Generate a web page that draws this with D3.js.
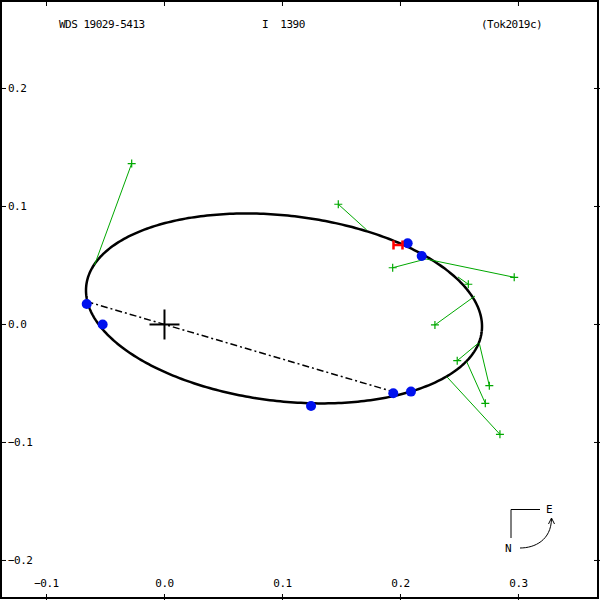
<!DOCTYPE html>
<html><head><meta charset="utf-8">
<script src="https://cdn.jsdelivr.net/npm/d3@7"></script>
<style>body{margin:0;background:#fff}svg{display:block}text{font-family:"DejaVu Sans Mono",monospace;font-size:11px;letter-spacing:-0.5px;fill:#000;white-space:pre}</style>
</head><body><svg id="c" width="600" height="600"></svg>
<script>
// title texts
const titleTexts = [{t:"WDS 19029-5413", x:59}, {t:"I  1390", x:262}, {t:"(Tok2019c)", x:481}];
// tick values
const xTicks = [-0.1, 0.0, 0.1, 0.2, 0.3];
const yTicks = [0.2, 0.1, 0.0, -0.1, -0.2];
// orbit ellipse parameters (data units): centre, semi-axes, rotation (deg)
const orbitCenter = [0.1013, 0.0136];
const orbitAxes = [0.1687, 0.0786];
const orbitAngle = -6.645;
// line of nodes endpoints
const nodeLine = [[-0.0661, 0.0195], [0.1936, -0.0569]];
// speckle measures (blue)
const speckleX = [-0.0659, -0.0524, 0.1242, 0.1939, 0.2089, 0.2061, 0.2180];
const speckleY = [0.0174, 0.0000, -0.0691, -0.0583, -0.0569, 0.0688, 0.0581];
// Hipparcos point
const hipX = [0.1979], hipY = [0.0674];
// visual measures (green) and predicted positions
const visX  = [-0.0278, 0.1473, 0.1934, 0.2964, 0.2575, 0.2292, 0.2481, 0.2753, 0.2719, 0.2843];
const visY  = [0.1364, 0.1019, 0.0481, 0.0400, 0.0341, -0.0004, -0.0307, -0.0519, -0.0668, -0.0931];
const predX = [-0.0593, 0.1714, 0.2216, 0.2216, 0.2487, 0.2631, 0.2659, 0.2668, 0.2561, 0.2392];
const predY = [0.0504, 0.0801, 0.0555, 0.0555, 0.0403, 0.0241, -0.0159, -0.0159, -0.0315, -0.0442];

const svg = d3.select("#c");
const x = d3.scaleLinear().domain([-0.1394, 0.3691]).range([0, 600]);
const y = d3.scaleLinear().domain([0.2750, -0.2335]).range([0, 600]);
const fmt = d3.format(".1f");

// frame
svg.append("rect").attr("x",1).attr("y",1).attr("width",597).attr("height",597)
  .attr("fill","none").attr("stroke","#000").attr("stroke-width",2);

// ticks
const tl = 6;
xTicks.forEach(v=>{
  svg.append("line").attr("x1",x(v)).attr("x2",x(v)).attr("y1",0).attr("y2",tl).attr("stroke","#000");
  svg.append("line").attr("x1",x(v)).attr("x2",x(v)).attr("y1",600).attr("y2",600-tl).attr("stroke","#000");
  svg.append("text").attr("x",x(v)).attr("y",587).attr("text-anchor","middle").text(fmt(v));
});
yTicks.forEach(v=>{
  svg.append("line").attr("y1",y(v)).attr("y2",y(v)).attr("x1",0).attr("x2",tl).attr("stroke","#000");
  svg.append("line").attr("y1",y(v)).attr("y2",y(v)).attr("x1",600).attr("x2",600-tl).attr("stroke","#000");
  svg.append("text").attr("x",8).attr("y",y(v)+4).text(fmt(v));
});

// titles
titleTexts.forEach(d=>svg.append("text").attr("x",d.x).attr("y",28).attr("xml:space","preserve").text(d.t));

// ellipse
const th = orbitAngle*Math.PI/180;
const pts = d3.range(0, 361).map(i=>{
  const t = i*Math.PI/180;
  const u = orbitAxes[0]*Math.cos(t), w = orbitAxes[1]*Math.sin(t);
  return [orbitCenter[0] + u*Math.cos(th) - w*Math.sin(th), orbitCenter[1] + u*Math.sin(th) + w*Math.cos(th)];
});
const line = d3.line().x(d=>x(d[0])).y(d=>y(d[1]));
svg.append("path").attr("d", line(pts)).attr("fill","none").attr("stroke","#000").attr("stroke-width",2.5);

// line of nodes
svg.append("path").attr("d", line(nodeLine)).attr("fill","none").attr("stroke","#000")
  .attr("stroke-width",1.5).attr("stroke-dasharray","7,3,2,3");

// origin cross
const ox = x(0), oy = y(0);
svg.append("line").attr("x1",ox-15).attr("x2",ox+15).attr("y1",oy).attr("y2",oy).attr("stroke","#000").attr("stroke-width",2);
svg.append("line").attr("x1",ox).attr("x2",ox).attr("y1",oy-15).attr("y2",oy+15).attr("stroke","#000").attr("stroke-width",2);

// visual O-C lines and pluses
const green = "#00a800";
visX.forEach((v,i)=>{
  svg.append("line").attr("x1",x(v)).attr("y1",y(visY[i])).attr("x2",x(predX[i])).attr("y2",y(predY[i]))
    .attr("stroke",green).attr("stroke-width",1);
  const px = x(v), py = y(visY[i]);
  svg.append("path").attr("d",`M${px-4},${py}H${px+4}M${px},${py-4}V${py+4}`).attr("stroke",green).attr("stroke-width",1.2);
});

// speckle dots
speckleX.forEach((v,i)=>{
  svg.append("circle").attr("cx",x(v)).attr("cy",y(speckleY[i])).attr("r",5).attr("fill","#0011ee");
});

// Hipparcos H
hipX.forEach((v,i)=>{
  const px = x(v), py = y(hipY[i]);
  svg.append("path").attr("d",`M${px-4.5},${py-4.5}V${py+4.5}M${px+4.5},${py-4.5}V${py+4.5}M${px-4.5},${py}H${px+4.5}`)
    .attr("stroke","#ff0000").attr("stroke-width",2.5).attr("fill","none");
});

// compass
const cg = svg.append("g");
cg.append("path").attr("d","M511,538V509.5H540").attr("fill","none").attr("stroke","#000").attr("stroke-width",1);
cg.append("text").attr("x",549).attr("y",513).attr("text-anchor","middle").text("E");
cg.append("text").attr("x",508).attr("y",552).attr("text-anchor","middle").text("N");
cg.append("path").attr("d","M520,548 C535,548 551,540 551.5,519").attr("fill","none").attr("stroke","#000").attr("stroke-width",1);
cg.append("path").attr("d","M548.5,524 L551.5,518 L554.5,524").attr("fill","none").attr("stroke","#000").attr("stroke-width",1);
</script></body></html>
